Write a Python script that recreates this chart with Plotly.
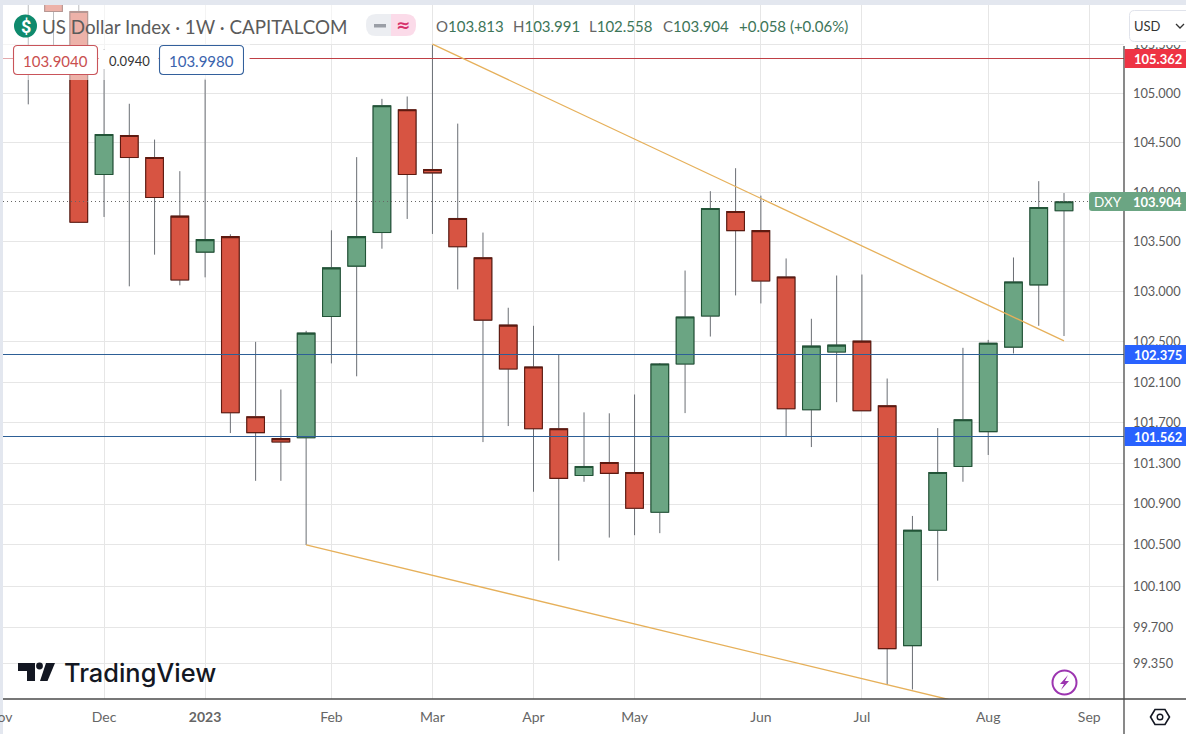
import plotly.graph_objects as go

dates = ["2022-11-14","2022-11-21","2022-11-28","2022-12-05","2022-12-12","2022-12-19","2022-12-26",
         "2023-01-02","2023-01-09","2023-01-16","2023-01-23","2023-01-30","2023-02-06","2023-02-13",
         "2023-02-20","2023-02-27","2023-03-06","2023-03-13","2023-03-20","2023-03-27","2023-04-03",
         "2023-04-10","2023-04-17","2023-04-24","2023-05-01","2023-05-08","2023-05-15","2023-05-22",
         "2023-05-29","2023-06-05","2023-06-12","2023-06-19","2023-06-26","2023-07-03","2023-07-10",
         "2023-07-17","2023-07-24","2023-07-31","2023-08-07","2023-08-14","2023-08-21","2023-08-28"]
opens = [106.5,106.2,105.84,104.179,104.573,104.35,103.758,103.397,103.552,101.758,101.542,101.551,
         102.753,103.256,103.593,104.835,104.229,103.735,103.34,102.667,102.251,101.64,101.18,101.307,
         101.209,100.819,102.28,102.757,103.805,103.613,103.148,101.827,102.399,102.507,101.867,99.523,
         100.644,101.268,101.611,102.448,103.068,103.813]
highs = [106.9,106.5,105.91,105.454,104.896,104.532,104.212,105.151,103.576,102.5,102.027,102.61,
         103.616,104.354,104.946,104.97,105.495,104.694,103.593,102.84,102.66,102.379,101.801,101.792,
         101.978,102.29,103.212,104.01,104.242,103.965,103.333,102.73,103.162,103.172,102.136,100.783,
         101.646,102.441,102.52,103.343,104.111,103.991]
lows = [104.89,105.485,103.69,103.75,103.054,103.371,103.064,103.144,101.597,101.127,101.127,100.5,
        102.286,102.158,103.431,103.73,103.579,103.023,101.508,101.666,101.02,100.347,101.118,100.572,
        100.595,100.615,101.794,102.553,102.963,102.883,101.564,101.459,101.902,101.817,99.145,99.1,
        100.152,101.118,101.381,102.385,102.66,102.558]
closes = [106.2,105.84,103.697,104.583,104.35,103.946,103.118,103.522,101.798,101.601,101.509,102.587,
          103.239,103.552,104.876,104.179,104.195,103.451,102.717,102.231,101.64,101.151,101.268,101.2,
          100.858,102.28,102.747,103.835,103.613,103.108,101.837,102.458,102.468,101.817,99.494,100.644,
          101.209,101.729,102.487,103.098,103.845,103.904]

level_red = 105.362
level_blue_1 = 102.375
level_blue_2 = 101.562
last_price = 103.904
upper_trend_x = ["2023-03-06", "2023-08-28"]
upper_trend_y = [105.505, 102.51]
lower_trend_x = ["2023-01-30", "2023-07-27"]
lower_trend_y = [100.5, 99.004]

x_start, x_end = "2022-11-07", "2023-09-13 15:00"
y_tick_vals = [105.5,105,104.5,104,103.5,103,102.5,102.1,101.7,101.3,100.9,100.5,100.1,99.7,99.35]
y_tick_text = ["105.500","105.000","104.500","104.000","103.500","103.000","102.500","102.100",
               "101.700","101.300","100.900","100.500","100.100","99.700","99.350"]
x_tick_vals = ["2022-12-05","2023-01-02","2023-02-06","2023-03-06","2023-04-03",
               "2023-05-01","2023-06-05","2023-07-03","2023-08-07","2023-09-04"]
x_tick_text = ["Dec","<b>2023</b>","Feb","Mar","Apr","May","Jun","Jul","Aug","Sep"]

L, R, T, B = 3, 1124, 5, 699
fx = lambda p: (p - L) / (R - L)
fy = lambda p: (B - p) / (B - T)
FONT = "Lato"
UP, DOWN = "#6ba583", "#d75442"
BODY_MS = 4.9 * 86400000


def poly(pts, close=True):
    s = "M " + " L ".join(f"{fx(a):.5f},{fy(b):.5f}" for a, b in pts)
    return s + (" Z" if close else "")


def rrect(x0, y0, x1, y1, r, left=True, right=True):
    rl = r if left else 0
    rr = r if right else 0
    return (f"M {fx(x0+rl):.5f},{fy(y0):.5f} L {fx(x1-rr):.5f},{fy(y0):.5f} "
            f"Q {fx(x1):.5f},{fy(y0):.5f} {fx(x1):.5f},{fy(y0+rr):.5f} "
            f"L {fx(x1):.5f},{fy(y1-rr):.5f} Q {fx(x1):.5f},{fy(y1):.5f} {fx(x1-rr):.5f},{fy(y1):.5f} "
            f"L {fx(x0+rl):.5f},{fy(y1):.5f} Q {fx(x0):.5f},{fy(y1):.5f} {fx(x0):.5f},{fy(y1-rl):.5f} "
            f"L {fx(x0):.5f},{fy(y0+rl):.5f} Q {fx(x0):.5f},{fy(y0):.5f} {fx(x0+rl):.5f},{fy(y0):.5f} Z")


shapes = []


def path(d, fill="rgba(0,0,0,0)", line=None, w=1):
    shapes.append(dict(type="path", xref="paper", yref="paper", path=d, fillcolor=fill, layer="above",
                       line=dict(color=line or "rgba(0,0,0,0)", width=w if line else 0)))


def rect(x0, y0, x1, y1, fill):
    shapes.append(dict(type="rect", xref="paper", yref="paper", x0=fx(x0), x1=fx(x1), y0=fy(y0), y1=fy(y1),
                       fillcolor=fill, line=dict(width=0), layer="above"))


def circle(cx, cy, r, fill="rgba(0,0,0,0)", line=None, w=1):
    shapes.append(dict(type="circle", xref="paper", yref="paper", x0=fx(cx-r), x1=fx(cx+r), y0=fy(cy+r), y1=fy(cy-r),
                       fillcolor=fill, layer="above",
                       line=dict(color=line or "rgba(0,0,0,0)", width=w if line else 0)))


annotations = []


def text(x, y, s, size=13, color="#555", anchor="left", family=FONT, weight=None):
    f = dict(size=size, color=color, family=family)
    if weight:
        f["weight"] = weight
    annotations.append(dict(xref="paper", yref="paper", x=fx(x), y=fy(y), text=s, showarrow=False,
                            xanchor=anchor, yanchor="middle", font=f, borderpad=0, borderwidth=0))


# window strips and axis frame
rect(-5, -5, 1190, T, "#e3e7ef")
rect(-5, -5, L, 740, "#e3e7ef")
shapes.append(dict(type="line", xref="paper", yref="paper", x0=fx(L), x1=fx(1186), y0=fy(B), y1=fy(B),
                   line=dict(color="#4a4a4a", width=1.3), layer="above"))
shapes.append(dict(type="line", xref="paper", yref="paper", x0=fx(R), x1=fx(R), y0=fy(46), y1=fy(734),
                   line=dict(color="#4a4a4a", width=1.3), layer="above"))
text(0, 716, "Nov", size=14, color="#666", anchor="center")

# veils behind the header
rect(L, T, 362, 44, "rgba(255,255,255,0.55)")
rect(L, 44, 250, 80, "rgba(255,255,255,0.55)")

# header
circle(25.5, 26, 11.5, fill="#0f8a6d")
text(25.5, 26.5, "<b>$</b>", size=18, color="white", anchor="center", family="Roboto")
text(42, 26.5, "US Dollar Index · 1W · CAPITALCOM", size=18.8, color="#5b5b5b")
path(rrect(366, 14, 392, 36, 10, right=False), fill="#eceef2")
path(rrect(391, 14, 416, 36, 10, left=False), fill="#fbdbe9")
rect(374, 24, 386, 27.5, "#9a9ea6")
text(403, 25, "<b>≈</b>", size=17, color="#d6336c", anchor="center", family="DejaVu Sans")
g = "#3d7558"
for xp, lab, val in [(436, "O", "103.813"), (513, "H", "103.991"), (589, "L", "102.558"), (663, "C", "103.904")]:
    text(xp, 26, f'<span style="color:#666">{lab}</span><span style="color:{g}">{val}</span>', size=15)
text(739, 26, "+0.058 (+0.06%)", size=15, color=g)

# price line badges
rect(99, 50, 158, 69, "white")
path(rrect(13.5, 45.5, 97.5, 74.5, 4), fill="white", line="#c9545a", w=1.1)
path(rrect(159.5, 45.5, 243.5, 74.5, 4), fill="white", line="#33609c", w=1.1)
rect(244, 50, 249, 69, "white")
text(55.5, 60.5, "103.9040", size=15, color="#c94f4f", anchor="center")
text(129, 60.5, "0.0940", size=13, color="#333", anchor="center")
text(201.5, 60.5, "103.9980", size=15, color="#3a63ad", anchor="center")

# right-hand labels
rect(R + 0.7, 5, 1186, 45, "white")
path(rrect(1129.5, 10.5, 1200, 41.5, 5), fill="white", line="#e0e3eb")
text(1134, 25.5, "USD", size=13, color="#333")
path(poly([(1176, 24), (1180, 28), (1184, 24)], close=False), line="#333", w=1.3)
rect(R + 0.7, 49, 1186, 68, "#ee3344")
text(1182, 59, "<b>105.362</b>", size=13, color="white", anchor="right")
path(rrect(1089, 192, 1250, 211, 3), fill=UP)
text(1094, 202, "DXY", size=13.5, color="white")
text(1182, 202, "<b>103.904</b>", size=13, color="white", anchor="right")
rect(R + 0.7, 345, 1186, 364, "#2962ff")
text(1182, 355, "<b>102.375</b>", size=13, color="white", anchor="right")
rect(R + 0.7, 427, 1186, 446, "#2962ff")
text(1182, 437, "<b>101.562</b>", size=13, color="white", anchor="right")

# TradingView logo
path(poly([(18, 663), (35, 663), (35, 681), (27, 681), (27, 671), (18, 671)]), fill="#131722")
circle(39.5, 666, 3.4, fill="#131722")
path(poly([(46, 663), (55, 663), (47.5, 681), (40, 681)]), fill="#131722")
text(64, 672.5, "TradingView", size=25.4, color="#131722", family="Inter", weight=500)

# lightning badge
circle(1064.5, 682.5, 12, line="#9c35b0", w=2)
path(poly([(1068, 675), (1060, 684), (1064, 684), (1061, 690), (1069, 681), (1065, 681)]), fill="#9c35b0")

# settings hexagon
path(poly([(1150.5, 717), (1155, 709.5), (1165, 709.5), (1169.5, 717), (1165, 724.5), (1155, 724.5)]),
     line="#131722", w=1.6)
circle(1160, 717, 2.8, line="#131722", w=1.4)

fig = go.Figure()

ups = [i for i in range(len(dates)) if closes[i] >= opens[i]]
downs = [i for i in range(len(dates)) if closes[i] < opens[i]]


def pick(values, idx):
    return [values[i] for i in idx]


def box(idx, fill, edge):
    body_top = [max(opens[i], closes[i]) for i in idx]
    body_bot = [min(opens[i], closes[i]) for i in idx]
    # wick layer
    fig.add_trace(go.Box(x=pick(dates, idx), q1=body_bot, q3=body_top, median=body_top,
                         lowerfence=pick(lows, idx), upperfence=pick(highs, idx),
                         width=BODY_MS, whiskerwidth=0, fillcolor=fill, line=dict(color="#6a6e74", width=1),
                         boxpoints=False, hoverinfo="skip", showlegend=False))
    # body layer with its darker edge
    fig.add_trace(go.Box(x=pick(dates, idx), q1=body_bot, q3=body_top, median=body_top,
                         lowerfence=body_bot, upperfence=body_top,
                         width=BODY_MS, whiskerwidth=0, fillcolor=fill, line=dict(color=edge, width=1.1),
                         boxpoints=False, hoverinfo="skip", showlegend=False))


box(ups, UP, "#225437")
box(downs, DOWN, "#5e1a10")


def line_trace(xs, ys, color, width=1.0, dash="solid"):
    fig.add_trace(go.Scatter(x=xs, y=ys, mode="lines", line=dict(color=color, width=width, dash=dash),
                             hoverinfo="skip", showlegend=False))


line_trace([x_start, x_end], [last_price, last_price], "#666666", 1, "1px 3px")
line_trace([x_start, x_end], [level_red, level_red], "#bf3f45")
line_trace([x_start, x_end], [level_blue_1, level_blue_1], "#2d5f96")
line_trace([x_start, x_end], [level_blue_2, level_blue_2], "#2d5f96")
line_trace(upper_trend_x, upper_trend_y, "#e6b05a", 1.3)
line_trace(lower_trend_x, lower_trend_y, "#e6b05a", 1.3)

fig.update_layout(
    width=1186, height=734, autosize=False,
    margin=dict(l=L, r=1186 - R, t=T, b=734 - B, pad=0),
    paper_bgcolor="white", plot_bgcolor="white", boxmode="overlay",
    font=dict(family=FONT, size=13, color="#555"),
    showlegend=False, shapes=shapes, annotations=annotations, hovermode=False,
    xaxis=dict(type="date", range=[x_start, x_end], tickmode="array", tickvals=x_tick_vals, ticktext=x_tick_text,
               tickangle=0, showgrid=True, gridcolor="#e6e6e6", gridwidth=1, zeroline=False, ticks="",
               showline=False, tickfont=dict(size=14, color="#666", family=FONT),
               ticklabelstandoff=8),
    yaxis=dict(type="log", side="right", range=[1.995673, 2.024921], tickmode="array", tickvals=y_tick_vals,
               ticktext=y_tick_text, showgrid=True, gridcolor="#e6e6e6", gridwidth=1, zeroline=False, ticks="",
               showline=False, tickfont=dict(size=12.8, color="#5a5a5a", family=FONT), ticklabelstandoff=8),
)

fig.write_html("out.html", config=dict(displayModeBar=False),
               post_script="document.body.style.margin='0';document.body.style.background='white';"
               "var t=document.querySelectorAll('.scatterlayer .trace');"
               "for(var i=0;i<4&&i<t.length;i++){t[i].style.shapeRendering='crispEdges';}")
